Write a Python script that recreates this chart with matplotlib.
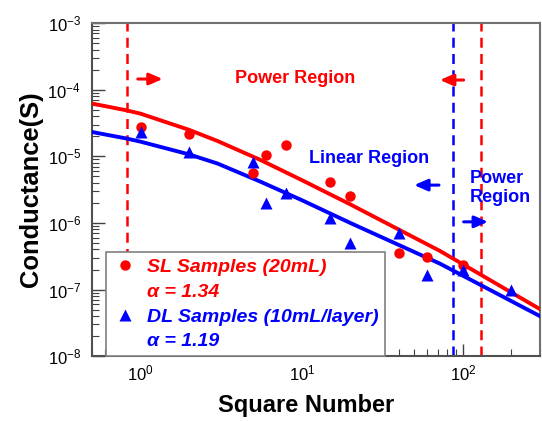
import numpy as np
import matplotlib
matplotlib.use("Agg")
import matplotlib.pyplot as plt
from matplotlib.lines import Line2D

plt.rcParams['font.family'] = ['Liberation Sans', 'DejaVu Sans']
plt.rcParams['mathtext.default'] = 'regular'

# measured points
sl_x = [1, 2, 5, 6, 8, 15, 20, 40, 60, 100]
sl_y = [2.75e-5, 2.2e-5, 5.6e-6, 1.04e-5, 1.5e-5, 4.1e-6, 2.5e-6, 3.6e-7, 3.1e-7, 2.3e-7]

dl_x = [1, 2, 5, 6, 8, 15, 20, 40, 60, 100, 200]
dl_y = [2.3e-5, 1.15e-5, 8.1e-6, 2.0e-6, 2.8e-6, 1.2e-6, 5.0e-7, 7.0e-7, 1.66e-7, 2.0e-7, 1.0e-7]

# fitted curves
fit_x = [0.5, 0.82, 1, 2, 3, 5.5, 10, 20, 72, 300]
sl_fit = [6.2e-5, 4.9e-5, 4.37e-5, 2.5e-5, 1.7e-5, 8.9e-6, 4.4e-6, 1.9e-6, 3.8e-7, 5.1e-8]
dl_fit = [2.32e-5, 1.85e-5, 1.66e-5, 1.07e-5, 7.8e-6, 4.2e-6, 2.2e-6, 1.0e-6, 2.45e-7, 4.0e-8]

# region boundaries
red_bounds = [0.82, 129]
blue_bound = 87

fig = plt.figure(figsize=(5.42, 4.21), dpi=100)
ax = fig.add_axes([0.170, 0.154, 0.826, 0.791])

ax.plot(fit_x, sl_fit, color='red', lw=2.8, zorder=3)
ax.plot(fit_x, dl_fit, color='blue', lw=2.8, zorder=3)
ax.plot(sl_x, sl_y, 'o', color='red', ms=7.5, mec='none', zorder=4)
ax.plot(dl_x, dl_y, '^', color='blue', ms=8.5, mec='none', zorder=4)

for b in red_bounds:
    ax.axvline(b, color='red', lw=1.8, dashes=(4, 2.5), zorder=2)
ax.axvline(blue_bound, color='blue', lw=1.8, dashes=(4, 2.5), zorder=2)

ax.set_xscale('log')
ax.set_yscale('log')
ax.set_xlim(0.5, 300)
ax.set_ylim(1e-8, 1e-3)

# arrows + region labels
arr = dict(arrowstyle='-|>,head_length=0.8,head_width=0.35', lw=2.2,
           shrinkA=0, shrinkB=0)
ax.annotate('', xy=(1.37, 1.45e-4), xytext=(0.96, 1.45e-4),
            arrowprops=dict(arr, color='red'))
ax.annotate('', xy=(72, 1.4e-4), xytext=(101, 1.4e-4),
            arrowprops=dict(arr, color='red'))
ax.annotate('', xy=(49.8, 3.7e-6), xytext=(71, 3.7e-6),
            arrowprops=dict(arr, color='blue'))
ax.annotate('', xy=(143, 1.04e-6), xytext=(101, 1.04e-6),
            arrowprops=dict(arr, color='blue'))

ax.text(9.1, 1.5e-4, 'Power Region', color='red', fontsize=13,
        fontweight='bold', ha='center', va='center')
ax.text(26.2, 9.4e-6, 'Linear Region', color='blue', fontsize=13,
        fontweight='bold', ha='center', va='center')
ax.text(110, 3.35e-6, 'Power\nRegion', color='blue', fontsize=13,
        fontweight='bold', ha='left', va='center', linespacing=1.2)

# legend
handles = [Line2D([], [], marker='o', color='red', ls='none', ms=7.5, mec='none'),
           Line2D([], [], ls='none'),
           Line2D([], [], marker='^', color='blue', ls='none', ms=8.5, mec='none'),
           Line2D([], [], ls='none')]
labels = ['SL Samples (20mL)', 'α = 1.34', 'DL Samples (10mL/layer)', 'α = 1.19']
leg = ax.legend(handles, labels, loc='lower left', bbox_to_anchor=(0.031, 0.0),
                frameon=True, fancybox=False, framealpha=1, edgecolor='#808080',
                handlelength=1.35, handletextpad=0.46, labelspacing=0.37,
                borderpad=0.3, borderaxespad=0,
                prop=dict(size=14, weight='bold', style='italic'))
leg.get_frame().set_linewidth(1.2)
for t, c in zip(leg.get_texts(), ['red', 'red', 'blue', 'blue']):
    t.set_color(c)

ax.tick_params(which='both', direction='in', top=False, right=False,
               labelsize=12)
ax.tick_params(which='major', length=9, width=1, color='#404040')
ax.tick_params(which='minor', length=5, width=0.8, color='#404040')
ax.tick_params(axis='x', which='major', pad=5)
ax.tick_params(axis='y', which='major', pad=8)

for s in ['top', 'right']:
    ax.spines[s].set_color('#707070')
    ax.spines[s].set_linewidth(1.5)
for s in ['left', 'bottom']:
    ax.spines[s].set_color('#505050')
    ax.spines[s].set_linewidth(1.5)

ax.set_xlabel('Square Number', fontsize=17, fontweight='bold', labelpad=8)
ax.xaxis.label.set_x(0.478)
ax.set_ylabel('Conductance(S)', fontsize=18.4, fontweight='bold', labelpad=3)

fig.savefig('out.png', dpi=100)
